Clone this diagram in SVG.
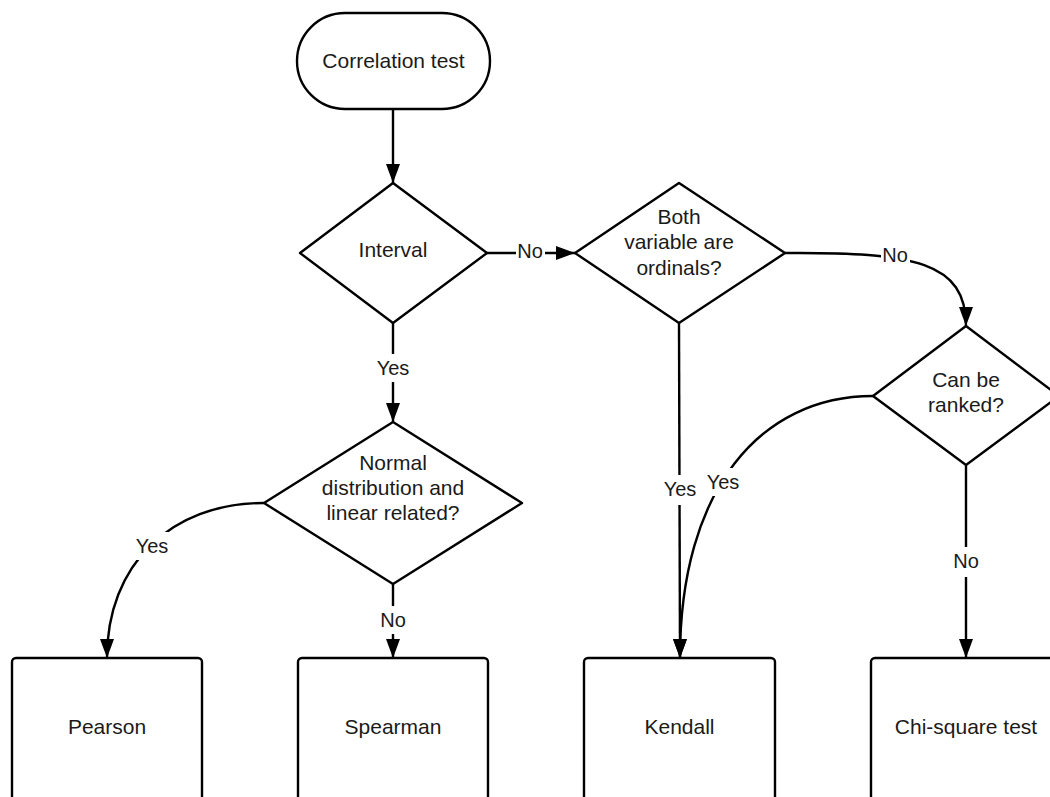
<svg xmlns="http://www.w3.org/2000/svg" width="1050" height="797" viewBox="0 0 1050 797">
<style>
.shape{fill:#fff;stroke:#000;stroke-width:2.4;stroke-linejoin:round}
.conn{fill:none;stroke:#000;stroke-width:2.4}
.t{font-family:"Liberation Sans",Arial,sans-serif;font-size:21px;fill:#1a1a1a;text-anchor:middle}
.lbl{font-family:"Liberation Sans",Arial,sans-serif;font-size:20px;fill:#1a1a1a;text-anchor:middle}
.bg{fill:#fff;stroke:none}
</style>
<defs>
<marker id="arr" markerUnits="userSpaceOnUse" markerWidth="20" markerHeight="15" refX="19" refY="7.5" orient="auto">
<path d="M0,0.5 L19,7.5 L0,14.5 z" fill="#000"/>
</marker>
</defs>
<rect width="1050" height="797" fill="#fff"/>
<g id="connectors">
<path class="conn" d="M393,109 L393,183" marker-end="url(#arr)"/>
<path class="conn" d="M487,253 L575,253" marker-end="url(#arr)"/>
<path class="conn" d="M393,323 L393,422" marker-end="url(#arr)"/>
<path class="conn" d="M785,253 C 915,252 966,262 966,326" marker-end="url(#arr)"/>
<path class="conn" d="M679,323 L680,658" marker-end="url(#arr)"/>
<path class="conn" d="M873,396 C 760,396 680,490 680,658" marker-end="url(#arr)"/>
<path class="conn" d="M966,465 L966,658" marker-end="url(#arr)"/>
<path class="conn" d="M264,503 C 170,503 107,565 107,658" marker-end="url(#arr)"/>
<path class="conn" d="M393,584 L393,658" marker-end="url(#arr)"/>
<rect class="bg" x="516" y="240" width="29" height="26"/>
<text class="lbl" x="530" y="258">No</text>
<rect class="bg" x="374" y="354" width="38" height="28"/>
<text class="lbl" x="393" y="375">Yes</text>
<rect class="bg" x="881" y="242" width="29" height="26"/>
<text class="lbl" x="895" y="262">No</text>
<rect class="bg" x="661" y="475" width="38" height="30"/>
<text class="lbl" x="680" y="496">Yes</text>
<rect class="bg" x="704" y="468" width="38" height="28"/>
<text class="lbl" x="723" y="489">Yes</text>
<rect class="bg" x="952" y="547" width="29" height="30"/>
<text class="lbl" x="966" y="568">No</text>
<rect class="bg" x="133" y="532" width="38" height="28"/>
<text class="lbl" x="152" y="553">Yes</text>
<rect class="bg" x="379" y="606" width="29" height="28"/>
<text class="lbl" x="393" y="627">No</text>
</g>
<g id="start">
<rect class="shape" x="297" y="13" width="193" height="96" rx="48" ry="48"/>
<text class="t" x="393.5" y="68">Correlation test</text>
</g>
<g id="interval">
<path class="shape" d="M393,183 L487,253 L393,323 L300,253 Z"/>
<text class="t" x="393" y="257">Interval</text>
</g>
<g id="ordinals">
<path class="shape" d="M679,183 L785,253 L679,323 L575,253 Z"/>
<text class="t" x="679" y="224">Both</text>
<text class="t" x="679" y="249">variable are</text>
<text class="t" x="679" y="275">ordinals?</text>
</g>
<g id="ranked">
<path class="shape" d="M966,326 L1059,396 L966,465 L873,396 Z"/>
<text class="t" x="966" y="387">Can be</text>
<text class="t" x="966" y="412">ranked?</text>
</g>
<g id="normal">
<path class="shape" d="M393,422 L522,503 L393,584 L264,503 Z"/>
<text class="t" x="393" y="470">Normal</text>
<text class="t" x="393" y="495">distribution and</text>
<text class="t" x="393" y="520">linear related?</text>
</g>
<g id="pearson">
<rect class="shape" x="12" y="658" width="190" height="150" rx="4" ry="4"/>
<text class="t" x="107" y="734">Pearson</text>
</g>
<g id="spearman">
<rect class="shape" x="298" y="658" width="190" height="150" rx="4" ry="4"/>
<text class="t" x="393" y="734">Spearman</text>
</g>
<g id="kendall">
<rect class="shape" x="584" y="658" width="191" height="150" rx="4" ry="4"/>
<text class="t" x="679.5" y="734">Kendall</text>
</g>
<g id="chisquare">
<rect class="shape" x="871" y="658" width="190" height="150" rx="4" ry="4"/>
<text class="t" x="966" y="734">Chi-square test</text>
</g>
</svg>
